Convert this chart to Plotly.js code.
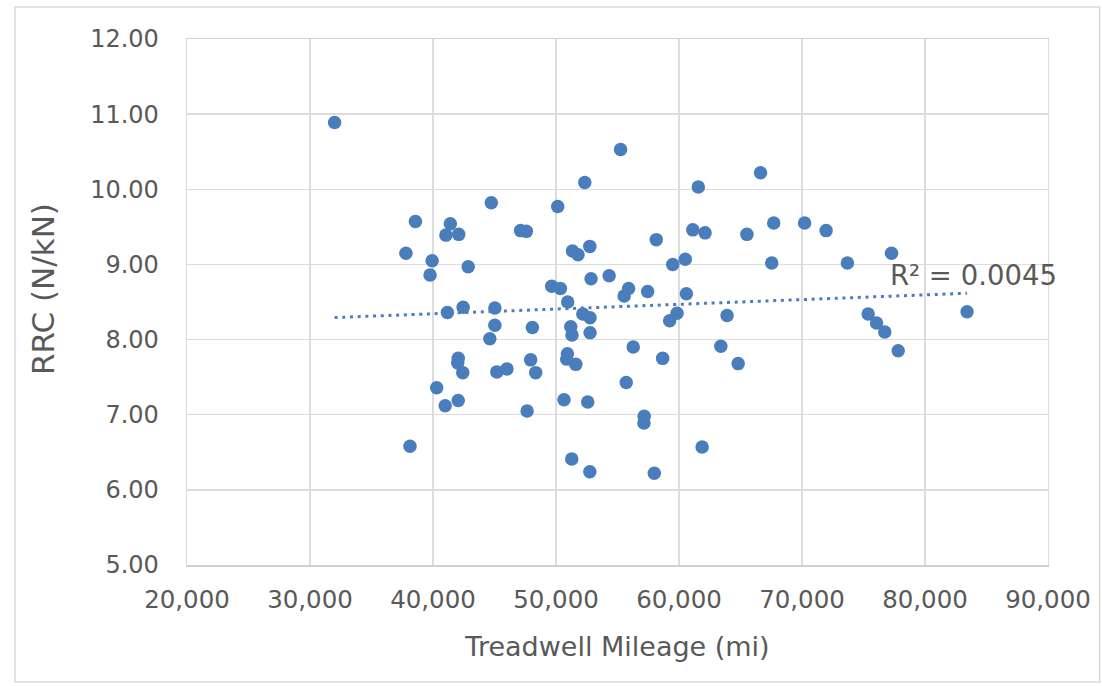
<!DOCTYPE html>
<html>
<head>
<meta charset="utf-8">
<script src="https://cdn.plot.ly/plotly-3.0.1.min.js"></script>
<style>
  html, body { margin: 0; padding: 0; background: #ffffff; }
  #chart { width: 1102px; height: 686px; }
</style>
</head>
<body>
<div id="chart"></div>
<script>
// Treadwell mileage (mi)
const mileage = [
  32000, 37800, 38570, 39930, 39760, 38130, 40300, 40990, 41170, 41410,
  41050, 42090, 42860, 42450, 42050, 42010, 42420, 42050, 44740, 44620,
  45030, 45030, 45190, 46010, 47120, 47590, 48080, 47940, 48350, 47650,
  49650, 50140, 50360, 50950, 51340, 51790, 51200, 51300, 50930, 50870,
  51610, 50650, 51280, 52340, 52750, 52850, 52180, 52770, 52770, 52580,
  52750, 54320, 55250, 55900, 55540, 56280, 55710, 57170, 57150, 57450,
  58150, 57990, 58670, 59490, 59240, 59840, 60510, 60600, 61570, 61120,
  62120, 61880, 63910, 63400, 64810, 65520, 66630, 67700, 67540, 70210,
  71960, 73690, 75380, 76060, 76730, 77280, 77820, 83420
];
// Rolling resistance coefficient (N/kN)
const rrc = [
  10.89, 9.15, 9.57, 9.05, 8.86, 6.58, 7.36, 7.12, 8.36, 9.54,
  9.39, 9.40, 8.97, 8.43, 7.75, 7.69, 7.56, 7.19, 9.82, 8.01,
  8.42, 8.19, 7.57, 7.61, 9.45, 9.44, 8.16, 7.73, 7.56, 7.05,
  8.71, 9.77, 8.68, 8.50, 9.18, 9.13, 8.17, 8.06, 7.81, 7.74,
  7.67, 7.20, 6.41, 10.09, 9.24, 8.81, 8.34, 8.29, 8.09, 7.17,
  6.24, 8.85, 10.53, 8.68, 8.58, 7.90, 7.43, 6.98, 6.89, 8.64,
  9.33, 6.22, 7.75, 9.00, 8.25, 8.35, 9.07, 8.61, 10.03, 9.46,
  9.42, 6.57, 8.32, 7.91, 7.68, 9.40, 10.22, 9.55, 9.02, 9.55,
  9.45, 9.02, 8.34, 8.22, 8.10, 9.15, 7.85, 8.37
];
const xTickVals = [20000, 30000, 40000, 50000, 60000, 70000, 80000, 90000];
const yTickVals = [5, 6, 7, 8, 9, 10, 11, 12];
const r2Label = "R² = 0.0045";
const xTitle = "Treadwell Mileage (mi)";
const yTitle = "RRC (N/kN)";

// Linear trendline (least squares) from the data
const n = mileage.length;
let sx = 0, sy = 0, sxx = 0, sxy = 0;
for (let i = 0; i < n; i++) {
  sx += mileage[i]; sy += rrc[i];
  sxx += mileage[i] * mileage[i]; sxy += mileage[i] * rrc[i];
}
const slope = (n * sxy - sx * sy) / (n * sxx - sx * sx);
const intercept = (sy - slope * sx) / n;
const xMin = Math.min(...mileage), xMax = Math.max(...mileage);
const trendX = [xMin, xMax];
const trendY = trendX.map(v => intercept + slope * v);

const blue = '#4a7dbb';
const grey = '#595959';
const font = 'DejaVu Sans, sans-serif';

const data = [
  {
    type: 'scatter', mode: 'lines', x: trendX, y: trendY,
    line: { color: blue, width: 3, dash: '3px,4.7px' },
    hoverinfo: 'skip', showlegend: false
  },
  {
    type: 'scatter', mode: 'markers', x: mileage, y: rrc,
    marker: { color: blue, size: 13.5, line: { width: 0 } },
    showlegend: false
  }
];

const layout = {
  width: 1102, height: 686,
  margin: { l: 187, r: 54, t: 39, b: 121 },
  paper_bgcolor: '#ffffff', plot_bgcolor: '#ffffff',
  font: { family: font, color: grey },
  xaxis: {
    range: [20000, 90000], tickvals: xTickVals, tickformat: ',d',
    showgrid: true, gridcolor: '#dcdcdc', gridwidth: 1.3,
    zeroline: false, showline: true, linecolor: '#d0d0d0', linewidth: 1.5, mirror: true,
    ticks: '', ticklabelstandoff: 12,
    tickfont: { family: font, size: 24.5, color: grey },
    title: { text: xTitle, font: { family: font, size: 27, color: grey }, standoff: 24 }
  },
  yaxis: {
    range: [5, 12], tickvals: yTickVals, tickformat: '.2f',
    showgrid: true, gridcolor: '#dcdcdc', gridwidth: 1.3,
    zeroline: false, showline: true, linecolor: '#dcdcdc', linewidth: 1.3, mirror: true,
    ticks: '', ticklabelstandoff: 22,
    tickfont: { family: font, size: 24, color: grey }
  },
  annotations: [
    {
      x: 77030, y: 8.86, xref: 'x', yref: 'y', text: r2Label,
      showarrow: false, xanchor: 'left', yanchor: 'middle',
      font: { family: font, size: 27.5, color: grey }
    },
    {
      x: -0.1672, y: 0.5247, xref: 'paper', yref: 'paper', text: yTitle,
      showarrow: false, textangle: -90, xanchor: 'center', yanchor: 'middle',
      font: { family: font, size: 31, color: grey }
    }
  ],
  shapes: [
    {
      type: 'rect', xref: 'paper', yref: 'paper',
      x0: -0.1998, x1: 1.0600, y0: -0.2224, y1: 1.0608,
      line: { color: '#d9d9d9', width: 1.5 }, layer: 'below'
    }
  ]
};

Plotly.newPlot('chart', data, layout, { displayModeBar: false, staticPlot: true });
</script>
</body>
</html>
